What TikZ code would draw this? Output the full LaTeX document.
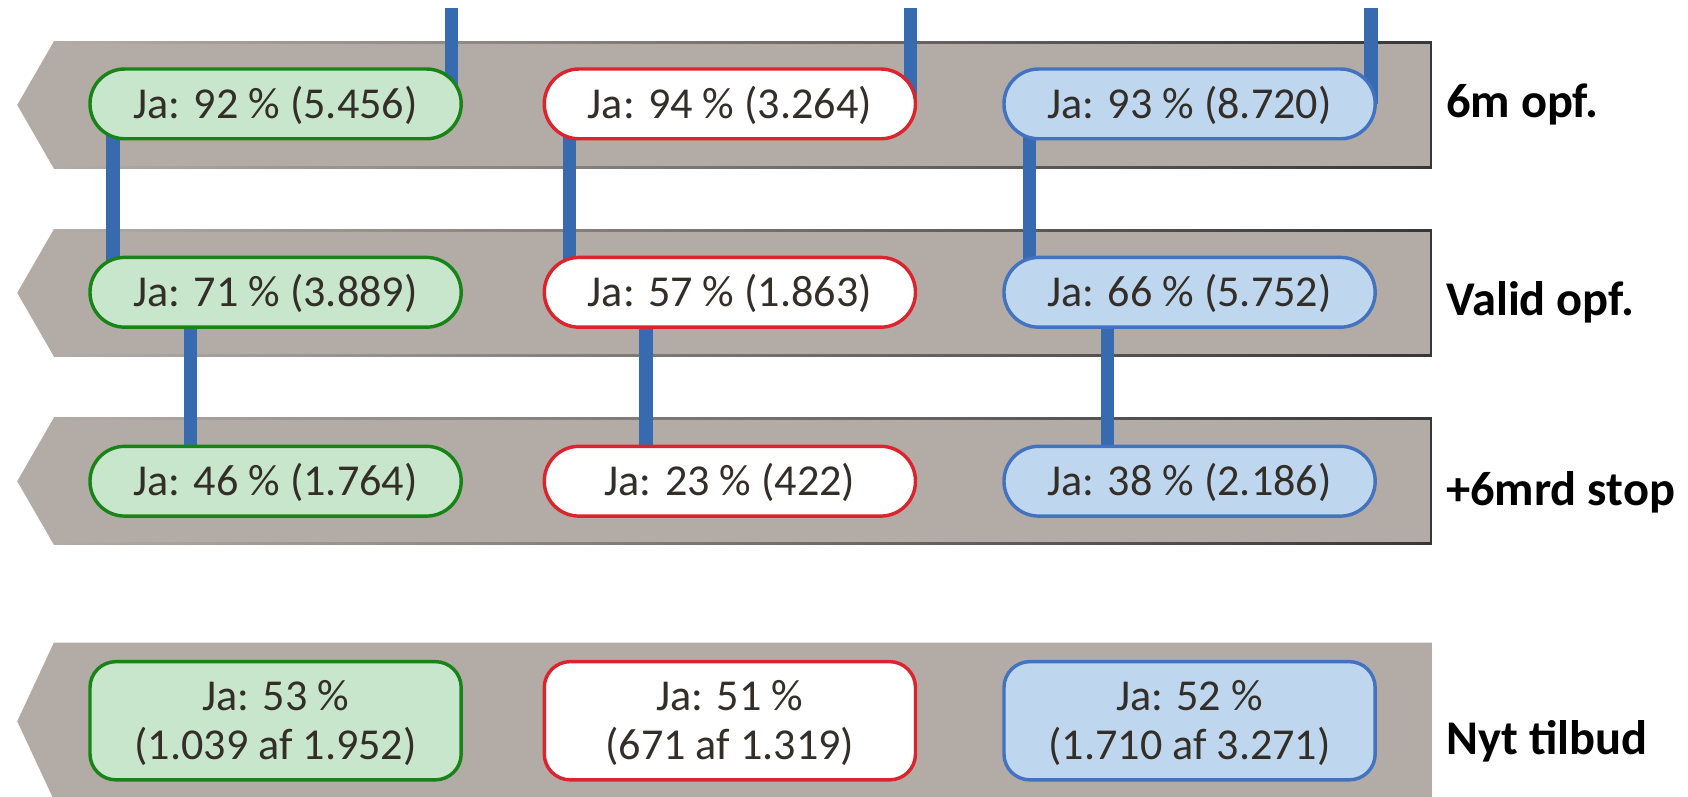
\documentclass[tikz,border=0pt]{standalone}
\usepackage{fontspec}
\setmainfont{Carlito}
\definecolor{bandfill}{RGB}{179,171,166}
\definecolor{bandedge}{RGB}{55,55,55}
\definecolor{conncol}{RGB}{56,106,176}
\definecolor{gfill}{RGB}{200,230,204}
\definecolor{gedge}{RGB}{24,132,24}
\definecolor{redge}{RGB}{220,36,46}
\definecolor{bfill}{RGB}{190,215,238}
\definecolor{bedge}{RGB}{66,114,192}
\definecolor{txt}{RGB}{52,46,40}
\pgfdeclarelayer{bg}\pgfdeclarelayer{mid}\pgfsetlayers{bg,mid,main}
\newcommand\twolines[2]{\vbox{\halign{\hfil##\hfil\cr#1\cr#2\cr}}}
\begin{document}
\begin{tikzpicture}[x=0.5pt,y=-0.5pt,
  pill/.style={draw, line width=1.6pt, minimum width=172.4pt, minimum height=32.4pt,
    rounded corners=16.1pt, inner sep=0pt, text=txt,
    font=\fontsize{20.5}{22.5}\selectfont, text height=13.2pt, text depth=0pt},
  pilltall/.style={pill, minimum height=54.9pt, rounded corners=12pt, text height=35.7pt},
  gpill/.style={fill=gfill, draw=gedge},
  rpill/.style={fill=white, draw=redge},
  bpill/.style={fill=bfill, draw=bedge},
  conn/.style={draw=conncol, line width=6.2pt},
  rowlabel/.style={anchor=base west, inner sep=0pt, text=black,
    font=\fontsize{22.5}{25}\selectfont\bfseries}
]
\useasboundingbox (0,0) rectangle (1568,740);

% bands
\begin{pgfonlayer}{bg}
\foreach \c in {97.5,272,447}{
  \fill[bandfill] (16,\c) -- (50,\c-59) -- (1330,\c-59) -- (1330,\c+59) -- (50,\c+59) -- cycle;
  \shade[left color=bandfill, right color=bandedge] (50,\c-59) rectangle (1330,\c-57.2);
  \shade[left color=bandfill, right color=bandedge] (50,\c+57.2) rectangle (1330,\c+59);
  \draw[bandedge, line width=1.1pt] (1329,\c-59) -- (1329,\c+59);
}
\fill[bandfill] (16,670) -- (50,597) -- (1330,597) -- (1330,743) -- (50,743) -- cycle;
\end{pgfonlayer}

% pills
\node[pill, gpill] (g1) at (256,96.5) {Ja: 92 \% (5.456)};
\node[pill, rpill] (r1) at (678,96.5) {Ja: 94 \% (3.264)};
\node[pill, bpill] (b1) at (1105,96.5) {Ja: 93 \% (8.720)};

\node[pill, gpill] (g2) at (256,271.5) {Ja: 71 \% (3.889)};
\node[pill, rpill] (r2) at (678,271.5) {Ja: 57 \% (1.863)};
\node[pill, bpill] (b2) at (1105,271.5) {Ja: 66 \% (5.752)};

\node[pill, gpill] (g3) at (256,447) {Ja: 46 \% (1.764)};
\node[pill, rpill] (r3) at (678,447) {Ja: 23 \% (422)};
\node[pill, bpill] (b3) at (1105,447) {Ja: 38 \% (2.186)};

\node[pilltall, gpill] (g4) at (256,669.5) {\twolines{Ja: 53 \%}{(1.039 af 1.952)}};
\node[pilltall, rpill] (r4) at (678,669.5) {\twolines{Ja: 51 \%}{(671 af 1.319)}};
\node[pilltall, bpill] (b4) at (1105,669.5) {\twolines{Ja: 52 \%}{(1.710 af 3.271)}};

% row labels
\node[rowlabel] (l1) at (1343,109.5) {6m opf.};
\node[rowlabel] (l2) at (1343,293.5) {Valid opf.};
\node[rowlabel] (l3) at (1343,469.5) {+6mrd stop};
\node[rowlabel] (l4) at (1343,700.5) {Nyt tilbud};

% connectors
\coordinate (tg) at (419.5,7);
\coordinate (tr) at (846,7);
\coordinate (tb) at (1273.5,7);
\coordinate (cg12) at (105,0);
\coordinate (cr12) at (529,0);
\coordinate (cb12) at (956.5,0);
\coordinate (cg23) at (177,0);
\coordinate (cr23) at (600,0);
\coordinate (cb23) at (1029,0);
\begin{pgfonlayer}{mid}
\draw[conn] (tg) -- (tg |- g1.center);
\draw[conn] (tr) -- (tr |- r1.center);
\draw[conn] (tb) -- (tb |- b1.center);
\draw[conn] (g1.center -| cg12) -- (g2.center -| cg12);
\draw[conn] (r1.center -| cr12) -- (r2.center -| cr12);
\draw[conn] (b1.center -| cb12) -- (b2.center -| cb12);
\draw[conn] (g2.center -| cg23) -- (g3.center -| cg23);
\draw[conn] (r2.center -| cr23) -- (r3.center -| cr23);
\draw[conn] (b2.center -| cb23) -- (b3.center -| cb23);
\end{pgfonlayer}
\end{tikzpicture}
\end{document}
